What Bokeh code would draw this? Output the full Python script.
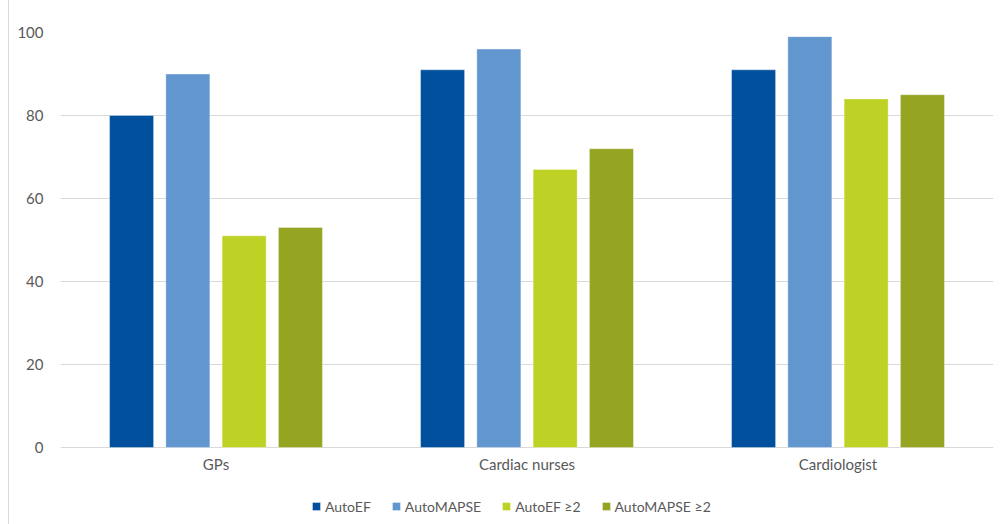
from bokeh.plotting import figure
from bokeh.models import ColumnDataSource, FactorRange, Range1d, Legend, LegendItem, Div
from bokeh.layouts import row
from bokeh.core.properties import value
from bokeh.transform import dodge
from bokeh.embed import file_html
from bokeh.resources import INLINE

# Groups of readers and the share (%) for each measure
groups = ["GPs", "Cardiac nurses", "Cardiologist"]
auto_ef = [80, 91, 91]
auto_mapse = [90, 96, 99]
auto_ef_2 = [51, 67, 84]
auto_mapse_2 = [53, 72, 85]

series_names = ["AutoEF", "AutoMAPSE", "AutoEF \u22652", "AutoMAPSE \u22652"]
series_keys = ["auto_ef", "auto_mapse", "auto_ef_2", "auto_mapse_2"]
colors = ["#00509e", "#6296cf", "#bed125", "#95a421"]
y_ticks = [0, 20, 40, 60, 80, 100]

source = ColumnDataSource(dict(
    groups=groups,
    zero=[0] * len(groups),
    auto_ef=auto_ef,
    auto_mapse=auto_mapse,
    auto_ef_2=auto_ef_2,
    auto_mapse_2=auto_mapse_2,
))

FONT = "Lato"
TEXT = "#595959"
GRID = "#d9d9d9"

# the plot area runs down to the bottom edge so the category names and
# the legend can sit underneath the zero line without being clipped
p = figure(
    x_range=FactorRange(*groups, range_padding=0),
    y_range=Range1d(-18.55, 100),
    width=992, height=524,
    output_backend="svg", toolbar_location=None,
    min_border_left=51, min_border_right=8,
    min_border_top=32, min_border_bottom=0,
    margin=0,
)
p.outline_line_color = None
p.background_fill_color = "white"
p.border_fill_color = "white"

pitch = 0.181
offsets = [-1.5 * pitch, -0.5 * pitch, 0.5 * pitch, 1.5 * pitch]
items = []
for key, name, col, off in zip(series_keys, series_names, colors, offsets):
    r = p.vbar(x=dodge("groups", off, range=p.x_range), top=key, width=0.1415,
               source=source, fill_color=col, line_color="white",
               line_alpha=0.35, line_width=1)
    items.append(LegendItem(label=name, renderers=[r]))

# category names below the zero line
p.text(x="groups", y="zero", text="groups", source=source,
       y_offset=16, text_align="center", text_baseline="middle",
       text_font=value(FONT), text_font_size="15px", text_color=TEXT)

# value axis
p.yaxis.ticker = y_ticks
p.yaxis.axis_line_color = None
p.yaxis.major_tick_line_color = None
p.yaxis.minor_tick_line_color = None
p.yaxis.major_label_standoff = 11
p.yaxis.major_label_text_font = FONT
p.yaxis.major_label_text_font_size = "15px"
p.yaxis.major_label_text_color = TEXT

p.xaxis.visible = False
p.xgrid.grid_line_color = None
p.ygrid.ticker = y_ticks
p.ygrid.grid_line_color = GRID
p.ygrid.grid_line_width = 1

legend = Legend(
    items=items, orientation="horizontal",
    location=(251, 8),
    glyph_width=10, glyph_height=10, label_standoff=4, spacing=20,
    padding=0, margin=0, border_line_color=None,
    background_fill_alpha=0,
    label_text_font=FONT, label_text_font_size="14px",
    label_text_color=TEXT, label_height=20,
)
p.add_layout(legend, "center")

# thin frame line down the left edge
edge = Div(width=9, height=524, margin=0,
           styles={"border-right": "1px solid #d9d9d9", "box-sizing": "border-box"})

layout = row(edge, p, spacing=0, margin=0)
open("out.html", "w").write(file_html(layout, INLINE))
